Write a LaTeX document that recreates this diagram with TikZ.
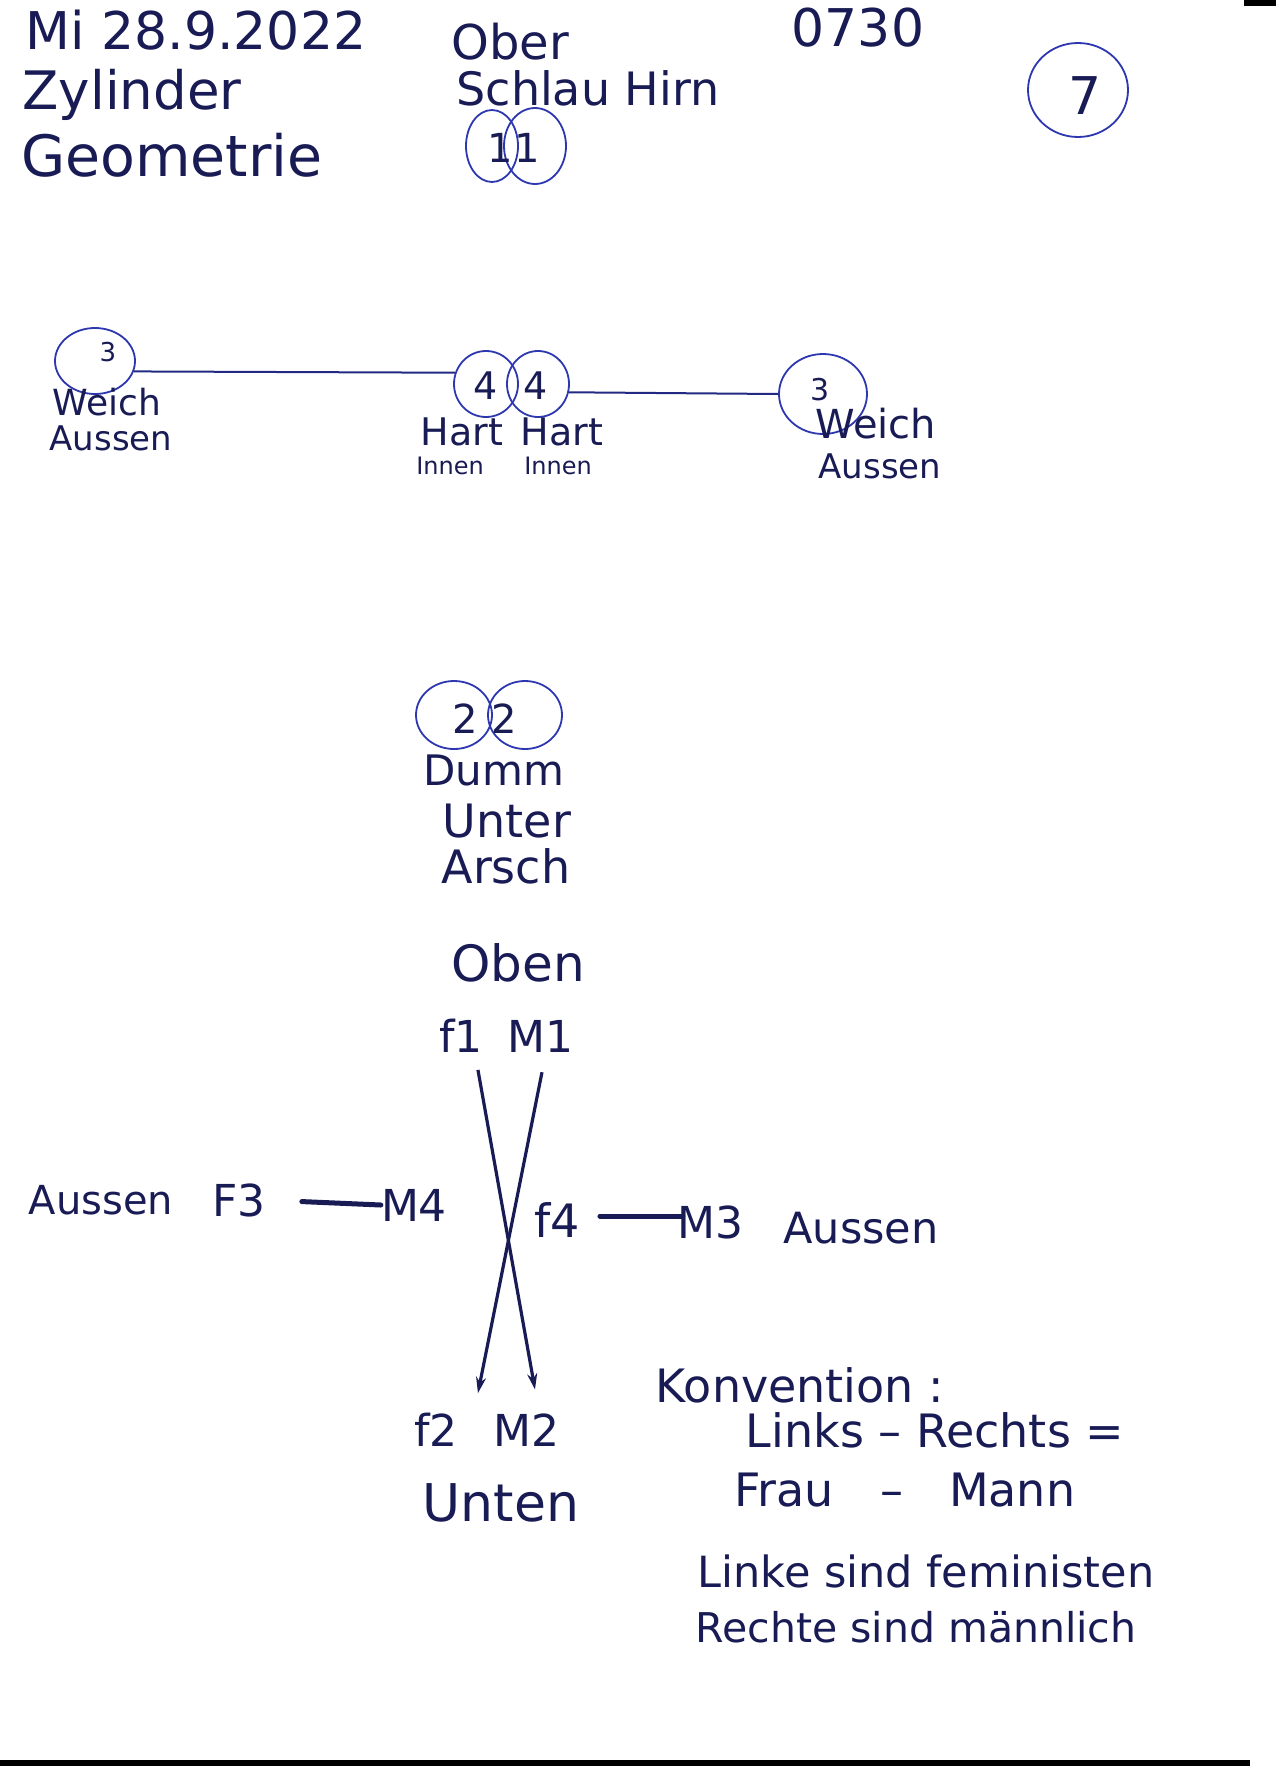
\documentclass[tikz,border=0pt]{standalone}
\usepackage{fontspec}
\setmainfont{DejaVu Sans}
\usetikzlibrary{shapes.geometric,arrows.meta,calc}
\definecolor{ink}{RGB}{25,27,85}
\definecolor{pen}{RGB}{45,55,175}
\newcommand\hsz[1]{\fontsize{#1}{#1}\selectfont}
\begin{document}
\begin{tikzpicture}[x=1pt,y=-1pt,
  hw/.style={text=ink,inner sep=0pt,anchor=center},
  ring/.style={draw=pen,line width=1.8pt,ellipse,inner sep=0pt},
  wire/.style={draw=pen!75!black,line width=2pt},
  bar/.style={draw=ink,line width=5pt,line cap=round},
  xarr/.style={draw=ink,line width=3.2pt,-{Stealth[length=16pt,width=10pt]}}
]
\useasboundingbox (0,0) rectangle (1276,1766);
\fill[white] (0,0) rectangle (1276,1766);
% scan marks
\fill[black] (1244,0) rectangle (1276,6);
\fill[black] (0,1760) rectangle (1250,1766);

% header
\node[hw,font=\hsz{52}] (date) at (196,30) {Mi 28.9.2022};
\node[hw,font=\hsz{53}] (zyl) at (132,95) {Zylinder};
\node[hw,font=\hsz{57}] (geo) at (172,155) {Geometrie};
\node[hw,font=\hsz{48}] (ober) at (510,42) {Ober};
\node[hw,font=\hsz{46}] (hirn) at (588,88) {Schlau Hirn};
\node[ring,minimum width=52,minimum height=72] (e1a) at (492,146) {};
\node[ring,minimum width=62,minimum height=76] (e1b) at (535,146) {};
\node[hw,font=\hsz{40}] (n1a) at (500,148) {1};
\node[hw,font=\hsz{40}] (n1b) at (527,148) {1};
\node[hw,font=\hsz{52}] (time) at (858,28) {0730};
\node[ring,minimum width=100,minimum height=94] (c7) at (1078,90) {};
\node[hw,font=\hsz{52}] (n7) at (1085,96) {7};

% row of circles
\node[ring,minimum width=80,minimum height=66] (c3l) at (95,361) {};
\node[hw,font=\hsz{26}] (n3l) at (108,352) {3};
\node[hw,font=\hsz{36}] (weichl) at (107,402) {Weich};
\node[hw,font=\hsz{34}] (aussenl) at (111,438) {Aussen};
\node[ring,minimum width=64,minimum height=66] (c4a) at (486,384) {};
\node[ring,minimum width=62,minimum height=66] (c4b) at (538,384) {};
\node[hw,font=\hsz{38}] (n4a) at (486,386) {4};
\node[hw,font=\hsz{38}] (n4b) at (536,386) {4};
\node[hw,font=\hsz{38}] (hart1) at (462,432) {Hart};
\node[hw,font=\hsz{38}] (hart2) at (562,432) {Hart};
\node[hw,font=\hsz{24}] (innen1) at (450,466) {Innen};
\node[hw,font=\hsz{24}] (innen2) at (558,466) {Innen};
\node[ring,minimum width=88,minimum height=80] (c3r) at (823,394) {};
\node[hw,font=\hsz{30}] (n3r) at (820,390) {3};
\node[hw,font=\hsz{40}] (weichr) at (876,424) {Weich};
\node[hw,font=\hsz{34}] (aussenr) at (880,466) {Aussen};
\draw[wire] (c3l.-15) -- (c4a.160);
\draw[wire] (c4b.-15) -- (c3r.west);

% lower circles
\node[ring,minimum width=76,minimum height=68] (c2a) at (454,715) {};
\node[ring,minimum width=74,minimum height=68] (c2b) at (525,715) {};
\node[hw,font=\hsz{40}] (n2a) at (465,719) {2};
\node[hw,font=\hsz{40}] (n2b) at (504,719) {2};
\node[hw,font=\hsz{42}] (dumm) at (494,770) {Dumm};
\node[hw,font=\hsz{46}] (unter) at (507,821) {Unter};
\node[hw,font=\hsz{46}] (arsch) at (506,866) {Arsch};

% cross
\node[hw,font=\hsz{50}] (oben) at (518,963) {Oben};
\node[hw,font=\hsz{44}] (f1) at (461,1036) {f1};
\node[hw,font=\hsz{44}] (m1) at (540,1036) {M1};
\node[hw,font=\hsz{40}] (aussenL) at (101,1200) {Aussen};
\node[hw,font=\hsz{44}] (f3) at (239,1200) {F3};
\node[hw,font=\hsz{44}] (m4) at (414,1205) {M4};
\node[hw,font=\hsz{46}] (f4) at (557,1220) {f4};
\node[hw,font=\hsz{44}] (m3) at (710,1222) {M3};
\node[hw,font=\hsz{43}] (aussenR) at (861,1228) {Aussen};
\node[hw,font=\hsz{44}] (f2) at (436,1430) {f2};
\node[hw,font=\hsz{44}] (m2) at (526,1430) {M2};
\node[hw,font=\hsz{52}] (unten) at (501,1503) {Unten};
\draw[xarr] ($(f1.south east)+(-5,17)$) -- ($(m2.north)+(9,-24)$);
\draw[xarr] ($(m1.south)+(2,20)$) -- ($(f2.north east)+(20,-20)$);
\draw[bar,shorten <=36pt] (f3.east) -- (m4.west);
\draw[bar,shorten <=20pt] ($(f4.east)+(0,-4)$) -- ($(m3.west)+(6,-6)$);

% convention notes
\node[hw,font=\hsz{46}] (konv) at (800,1385) {Konvention :};
\node[hw,font=\hsz{46}] (lr) at (935,1430) {Links – Rechts =};
\node[hw,font=\hsz{46}] (fm) at (905,1490) {Frau\hspace{1em}–\hspace{1em}Mann};
\node[hw,font=\hsz{43}] (linke) at (926,1571) {Linke sind feministen};
\node[hw,font=\hsz{41}] (rechte) at (916,1627) {Rechte sind männlich};
\end{tikzpicture}
\end{document}
